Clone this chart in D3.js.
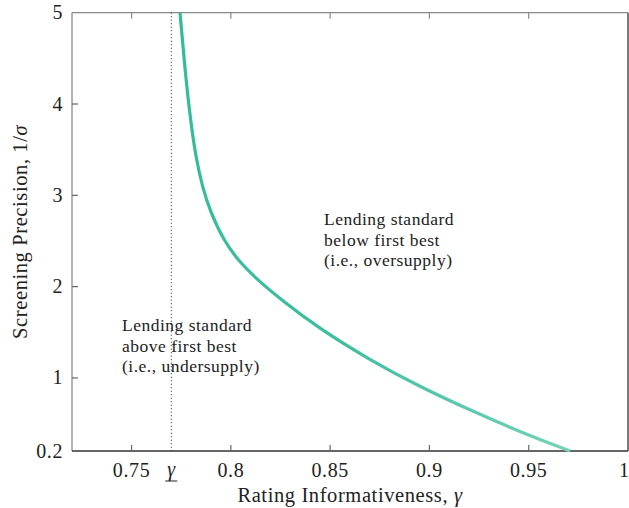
<!DOCTYPE html>
<html><head><meta charset="utf-8">
<script src="https://cdn.jsdelivr.net/npm/d3@7"></script>
<style>body{margin:0;background:#fff}svg{display:block}text{font-family:"Liberation Serif","DejaVu Serif",serif;fill:#222}</style>
</head><body><svg id="c" width="629" height="508"></svg>
<script>
const gammaVals = [0.7744,0.7770,0.7798,0.7825,0.7858,0.7895,0.7962,0.8046,0.8147,0.8256,0.8432,0.8701,0.8952,0.9204,0.9456,0.9708];
const precisionVals = [5.0,4.35,3.80,3.40,3.08,2.83,2.51,2.26,2.05,1.853,1.560,1.194,0.903,0.648,0.410,0.2];
const xTicks = [0.75,0.8,0.85,0.9,0.95,1];
const xTickLabels = ["0.75","0.8","0.85","0.9","0.95","1"];
const yTicks = [0.2,1,2,3,4,5];
const yTickLabels = ["0.2","1","2","3","4","5"];
const gammaBar = 0.77;
const xDomain = [0.72,1];
const yDomain = [0.2,5];
const annotAbove = ["Lending standard","above first best","(i.e., undersupply)"];
const annotBelow = ["Lending standard","below first best","(i.e., oversupply)"];

const svg = d3.select("#c");
const L=72,R=628,T=12.7,B=451;
const x = d3.scaleLinear().domain(xDomain).range([L,R]);
const y = d3.scaleLinear().domain(yDomain).range([B,T]);

// frame
svg.append("line").attr("x1",L).attr("x2",R).attr("y1",T).attr("y2",T).attr("stroke","#8a8a8a").attr("stroke-width",1.3);
svg.append("line").attr("x1",L).attr("x2",L).attr("y1",T).attr("y2",B).attr("stroke","#8a8a8a").attr("stroke-width",1.3);
svg.append("line").attr("x1",R).attr("x2",R).attr("y1",T).attr("y2",B).attr("stroke","#333").attr("stroke-width",1.3);
svg.append("line").attr("x1",L).attr("x2",R).attr("y1",B).attr("y2",B).attr("stroke","#333").attr("stroke-width",1.3);

// x ticks
const xt = svg.append("g");
xTicks.forEach((v,i)=>{
  if (v<1) {
    xt.append("line").attr("x1",x(v)).attr("x2",x(v)).attr("y1",B).attr("y2",B-6).attr("stroke","#666").attr("stroke-width",1.2);
    xt.append("line").attr("x1",x(v)).attr("x2",x(v)).attr("y1",T).attr("y2",T+6).attr("stroke","#888").attr("stroke-width",1.2);
  }
  xt.append("text").attr("x",v<1?x(v):629).attr("y",477).attr("text-anchor",v<1?"middle":"end")
    .attr("font-size",20).attr("letter-spacing",v<1?"0.6px":"0px").text(xTickLabels[i]);
});
// gamma underline label
xt.append("text").attr("x",x(gammaBar)).attr("y",476).attr("text-anchor","middle").attr("font-size",20).attr("font-style","italic").text("γ");
xt.append("line").attr("x1",x(gammaBar)-6).attr("x2",x(gammaBar)+6).attr("y1",481).attr("y2",481).attr("stroke","#222").attr("stroke-width",1);

// y ticks
yTicks.forEach((v,i)=>{
  if (v>0.2 && v<5) {
    svg.append("line").attr("x1",L).attr("x2",L+6).attr("y1",y(v)).attr("y2",y(v)).attr("stroke","#666").attr("stroke-width",1.2);
  }
  svg.append("text").attr("x",63).attr("y",y(v)+6.5).attr("text-anchor","end").attr("font-size",20).attr("letter-spacing","0.6px").text(yTickLabels[i]);
});

// dotted vertical
svg.append("line").attr("x1",x(gammaBar)).attr("x2",x(gammaBar)).attr("y1",T).attr("y2",B).attr("stroke","#222").attr("stroke-width",1).attr("stroke-dasharray","1,2.5");

// curve with gradient
const defs = svg.append("defs");
const grad = defs.append("linearGradient").attr("id","lg").attr("gradientUnits","userSpaceOnUse")
  .attr("x1",x(gammaVals[0])).attr("y1",y(precisionVals[0])).attr("x2",x(gammaVals[gammaVals.length-1])).attr("y2",y(precisionVals[precisionVals.length-1]));
grad.append("stop").attr("offset","0").attr("stop-color","#33bb99");
grad.append("stop").attr("offset","0.6").attr("stop-color","#3dbe9e");
grad.append("stop").attr("offset","1").attr("stop-color","#74d2ba");
const pts = gammaVals.map((g,i)=>[g,precisionVals[i]]);
svg.append("path").datum(pts)
  .attr("d", d3.line().x(d=>x(d[0])).y(d=>y(d[1])).curve(d3.curveBasis))
  .attr("fill","none").attr("stroke","url(#lg)").attr("stroke-width",3.2);

// annotations
function annot(lines, x0, y0){
  const t = svg.append("text").attr("font-size",17.5).attr("letter-spacing","0.5px");
  lines.forEach((s,i)=>t.append("tspan").attr("x",x0).attr("y",y0+i*20.7).text(s));
}
annot(annotAbove,122,331);
annot(annotBelow,324,225);

// axis labels
svg.append("text").attr("x",(L+R)/2).attr("y",502).attr("text-anchor","middle").attr("font-size",20.5).attr("letter-spacing","0.6px")
  .html('Rating Informativeness, <tspan font-style="italic">γ</tspan>');
svg.append("text").attr("transform",`translate(27,${(T+B)/2}) rotate(-90)`).attr("text-anchor","middle").attr("font-size",20.5).attr("letter-spacing","0.6px")
  .html('Screening Precision, 1/<tspan font-style="italic">σ</tspan>');
</script></body></html>
